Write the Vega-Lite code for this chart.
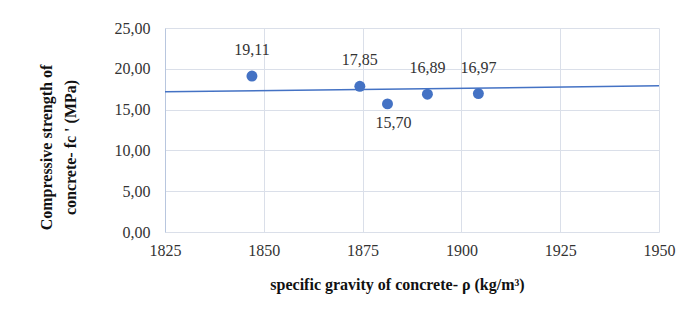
{
  "$schema": "https://vega.github.io/schema/vega-lite/v6.json",
  "autosize": "none",
  "width": 494,
  "height": 204,
  "padding": {"left": 165, "top": 28, "right": 32, "bottom": 78},
  "background": "white",
  "config": {
    "locale": {"number": {"decimal": ",", "thousands": ".", "grouping": [3], "currency": ["", " €"]}},
    "font": "Liberation Serif",
    "view": {"stroke": null},
    "text": {"font": "Liberation Serif"},
    "axis": {
      "labelFont": "Liberation Serif",
      "titleFont": "Liberation Serif",
      "labelFontSize": 16,
      "labelColor": "#333333",
      "titleFontSize": 16,
      "titleFontWeight": "bold",
      "titleColor": "#111111",
      "gridColor": "#dadfe9",
      "gridWidth": 1,
      "ticks": false,
      "labelFlush": false,
      "labelOverlap": false,
      "domainColor": "#b8c6de"
    }
  },
  "datasets": {
    "points": [
      {"density": 1847.0, "strength": 19.11},
      {"density": 1874.3, "strength": 17.85},
      {"density": 1881.3, "strength": 15.70},
      {"density": 1891.4, "strength": 16.89},
      {"density": 1904.3, "strength": 16.97}
    ],
    "trend": [
      {"density": 1825, "strength": 17.18},
      {"density": 1950, "strength": 17.91}
    ]
  },
  "layer": [
    {
      "data": {"name": "trend"},
      "mark": {"type": "line", "color": "#4472c4", "strokeWidth": 1.5},
      "encoding": {
        "x": {
          "field": "density", "type": "quantitative",
          "scale": {"domain": [1825, 1950], "nice": false, "zero": false},
          "axis": {
            "values": [1825, 1850, 1875, 1900, 1925, 1950],
            "format": "d",
            "labelPadding": 10,
            "domain": false,
            "title": "specific gravity of concrete- ρ (kg/m³)",
            "titleX": 232,
            "titleY": 52,
            "titleAnchor": "middle",
            "titleAlign": "center",
            "titleBaseline": "middle"
          }
        },
        "y": {
          "field": "strength", "type": "quantitative",
          "scale": {"domain": [0, 25], "nice": false},
          "axis": {
            "values": [0, 5, 10, 15, 20, 25],
            "format": ".2f",
            "labelPadding": 15,
            "title": ["Compressive strength of", "concrete- fc ' (MPa)"],
            "titleLineHeight": 24,
            "titleAngle": -90,
            "titleX": -119,
            "titleY": 119,
            "titleAlign": "center",
            "titleBaseline": "middle"
          }
        }
      }
    },
    {
      "data": {"name": "points"},
      "mark": {"type": "circle", "color": "#4472c4", "opacity": 1, "size": 120},
      "encoding": {
        "x": {"field": "density", "type": "quantitative"},
        "y": {"field": "strength", "type": "quantitative"}
      }
    },
    {
      "data": {"name": "points"},
      "transform": [{"filter": "datum.strength >= 16"}],
      "mark": {"type": "text", "fontSize": 16, "color": "#333333", "dy": -26, "baseline": "middle"},
      "encoding": {
        "x": {"field": "density", "type": "quantitative"},
        "y": {"field": "strength", "type": "quantitative"},
        "text": {"field": "strength", "type": "quantitative", "format": ".2f"}
      }
    },
    {
      "data": {"name": "points"},
      "transform": [{"filter": "datum.strength < 16"}],
      "mark": {"type": "text", "fontSize": 16, "color": "#333333", "dy": 19, "dx": 6, "baseline": "middle"},
      "encoding": {
        "x": {"field": "density", "type": "quantitative"},
        "y": {"field": "strength", "type": "quantitative"},
        "text": {"field": "strength", "type": "quantitative", "format": ".2f"}
      }
    }
  ]
}
